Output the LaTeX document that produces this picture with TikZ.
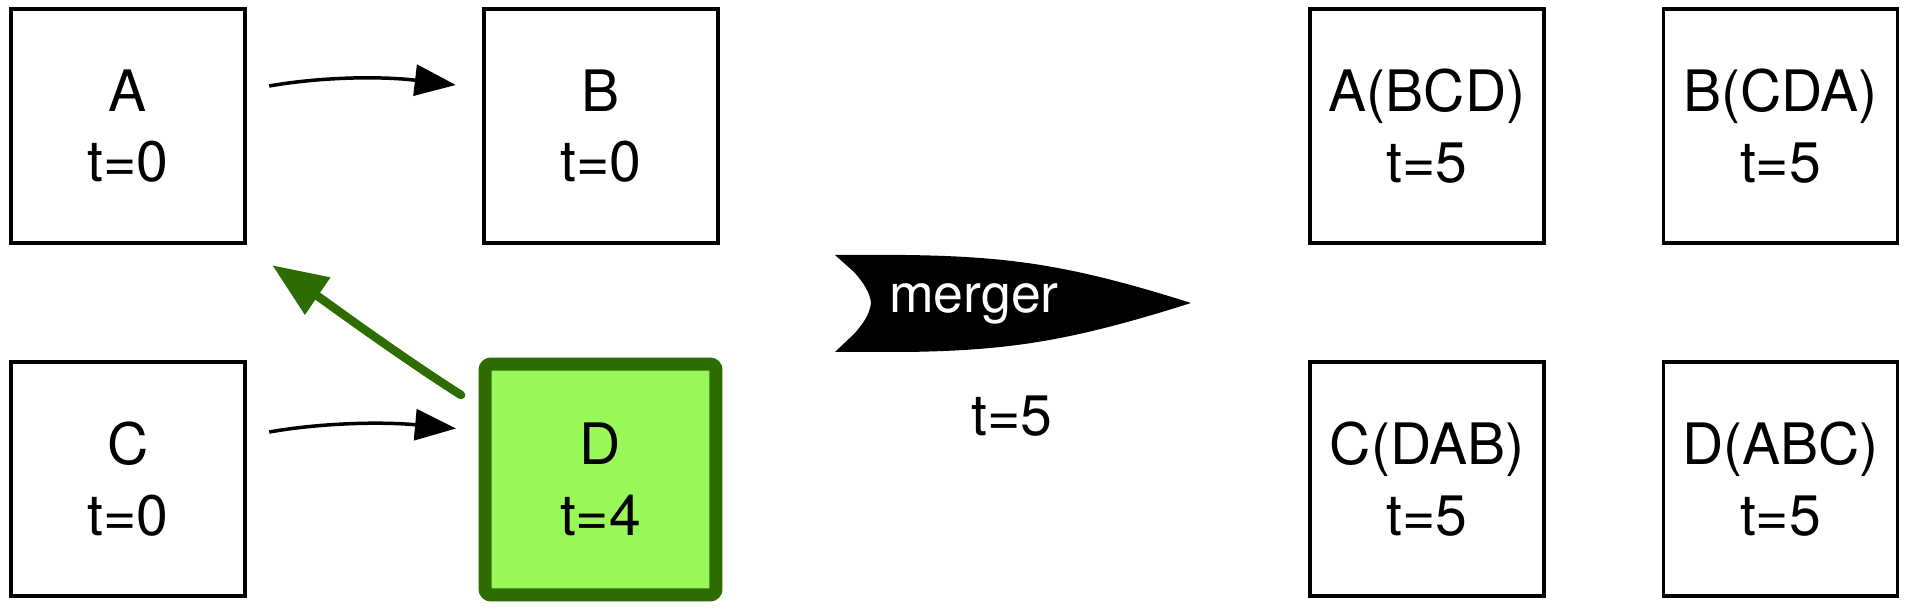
\documentclass[tikz,border=0pt]{standalone}
\usepackage{fontspec}
\setmainfont{TeX Gyre Heros}
\usetikzlibrary{arrows.meta}
\definecolor{dgreen}{HTML}{2D6C00}
\definecolor{lgreen}{HTML}{9AF95A}
\begin{document}
\begin{tikzpicture}[x=0.02cm,y=0.02cm,
 box/.style={draw=black, line width=0.07cm, minimum width=4.68cm, minimum height=4.68cm, align=center, font=\fontsize{32.5}{40}\selectfont, inner sep=0pt},
 hot/.style={box, draw=dgreen, fill=lgreen, line width=0.26cm, rounded corners=0.12cm, minimum width=4.62cm, minimum height=4.62cm},
 arr/.style={line width=0.07cm, -{Triangle[length=0.82cm,width=0.62cm]}},
 garr/.style={draw=dgreen, line width=0.17cm, line cap=round, -{Triangle[length=1.1cm,width=0.86cm]}},
 lbl/.style={font=\fontsize{32.5}{40}\selectfont, inner sep=0pt}
]
\useasboundingbox (0,0) rectangle (1908,612);
\node[box] (A) at (128,486) {A\\t=0};
\node[box] (B) at (601,486) {B\\t=0};
\node[box] (C) at (128,133) {C\\t=0};
\node[hot] (D) at (600.5,132.5) {D\\t=4};
\node[box] (A2) at (1427,486) {A(BCD)\\t=5};
\node[box] (B2) at (1780.5,486) {B(CDA)\\t=5};
\node[box] (C2) at (1427,133) {C(DAB)\\t=5};
\node[box] (D2) at (1780.5,133) {D(ABC)\\t=5};
\draw[arr] ([shift={(22.5,40)}]A.east) .. controls +(51,9) and +(-76,9) .. ([shift={(-26.5,41)}]B.west);
\draw[arr] ([shift={(22.5,47)}]C.east) .. controls +(51,9) and +(-76,7) .. ([shift={(-22.5,51)}]D.west);
\draw[garr] ([shift={(-17.5,84.5)}]D.west) .. controls +(-60,38) and +(50,-34) .. ([shift={(25.5,-20.5)}]A.south east);
\fill[black] (835,357) -- (906,357) .. controls (1010,355.5) and (1071,347) .. (1191,309)
  .. controls (1071,271) and (1010,261.5) .. (906,260) -- (835,260) -- (854,278)
  .. controls (864,289) and (870,299) .. (871,309) .. controls (870,319) and (864,329) .. (854,340) -- cycle;
\node[lbl, text=white, font=\fontsize{30.5}{36}\selectfont] (merge) at (974,308) {merger};
\node[lbl] (t5) at (1012,196) {t=5};
\end{tikzpicture}
\end{document}
